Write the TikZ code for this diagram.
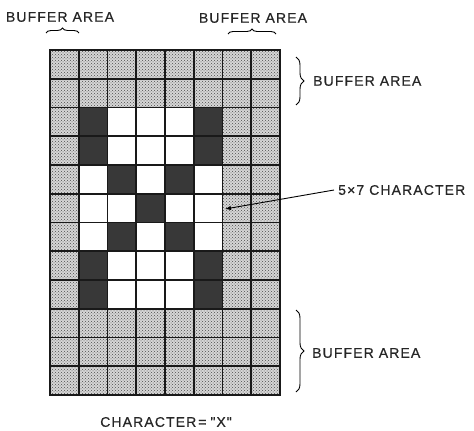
\documentclass[tikz,border=0pt]{standalone}
\usepackage{fontspec}
\newfontfamily\lblfont{Liberation Sans}[LetterSpace=8,FakeBold=0.6]
\usetikzlibrary{decorations.pathreplacing,patterns,arrows.meta}
\begin{document}
\begin{tikzpicture}[x=1pt,y=-1pt,
  lbl/.style={font=\lblfont\fontsize{14}{16}\selectfont, inner sep=0pt, text=black!85},
  bufcell/.style={fill=gray!32, postaction={pattern=crosshatch dots, pattern color=black!70}},
  darkcell/.style={fill=black!78},
  gridline/.style={line width=1.9pt, black!90},
  hbrace/.style={decorate, decoration={brace, amplitude=5pt}, line width=0.9pt},
  vbrace/.style={decorate, decoration={brace, amplitude=8pt}, line width=0.9pt},
  pointer/.style={line width=0.9pt, -{Latex[length=6pt,width=4.5pt]}}
  ]
\useasboundingbox (0,0) rectangle (474,431);
\def\cs{28.75}
% buffer area (whole grid)
\path[bufcell] (50,50) rectangle (280,395);
% character area
\fill[white] ({50+\cs},{50+2*\cs}) rectangle ({50+6*\cs},{50+9*\cs});
% dark pixels of the X
\foreach \c/\r in {1/2,5/2,1/3,5/3,2/4,4/4,3/5,2/6,4/6,1/7,5/7,1/8,5/8}
  \fill[darkcell] ({50+\c*\cs},{50+\r*\cs}) rectangle ++(\cs,\cs);
% grid
\foreach \i in {0,...,8}
  \draw[gridline] ({50+\i*\cs},50) -- ({50+\i*\cs},395);
\foreach \j in {0,...,12}
  \draw[gridline] (50,{50+\j*\cs}) -- (280,{50+\j*\cs});
\draw[gridline] (50,50) rectangle (280,395);
% braces
\coordinate (tlA) at (46,33);  \coordinate (tlB) at (79,33);
\coordinate (trA) at (228,34); \coordinate (trB) at (276,34);
\coordinate (r1A) at (296,57); \coordinate (r1B) at (296,105);
\coordinate (r2A) at (296,310); \coordinate (r2B) at (296,392);
\draw[hbrace] (tlA) -- (tlB);
\draw[hbrace] (trA) -- (trB);
\draw[vbrace] (r1A) -- (r1B);
\draw[vbrace] (r2A) -- (r2B);
% labels
\node[lbl] (blt) at (60,17) {BUFFER AREA};
\node[lbl] (brt) at (253,18) {BUFFER AREA};
\node[lbl, anchor=west] (br1) at (313,81) {BUFFER AREA};
\node[lbl, anchor=west] (br2) at (312,353) {BUFFER AREA};
\node[lbl, anchor=west] (ch) at (338,190) {5×7 CHARACTER};
\node[lbl] (cx) at (166,422) {CHARACTER\kern2pt=\kern4pt"\kern1pt X\kern1pt"};
% pointer
\coordinate (tip) at (225,209);
\draw[pointer] ([xshift=-4pt]ch.west) -- (tip);
\end{tikzpicture}
\end{document}
